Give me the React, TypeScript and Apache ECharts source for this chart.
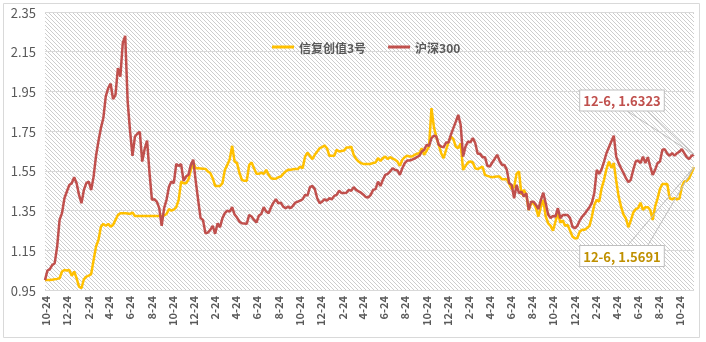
import React, { useEffect, useRef } from 'react';
import * as echarts from 'echarts';

// ---- data ----
const startDateUTC = [2014, 9, 24]; // 2014-10-24, weekly (Friday) observations
const seriesNames = ['信复创值3号', '沪深300'];

const fundValues = [
  1.000, 1.000, 1.000, 1.002, 1.004, 1.006, 1.009, 1.043, 1.051, 1.048,
  1.051, 1.021, 1.043, 1.009, 0.967, 0.959, 1.004, 1.017, 1.022, 1.031,
  1.101, 1.169, 1.202, 1.269, 1.283, 1.273, 1.283, 1.269, 1.278, 1.303,
  1.328, 1.337, 1.337, 1.337, 1.335, 1.333, 1.340, 1.323, 1.323, 1.323,
  1.323, 1.323, 1.323, 1.323, 1.323, 1.323, 1.323, 1.323, 1.323, 1.325,
  1.333, 1.357, 1.350, 1.355, 1.367, 1.404, 1.496, 1.488, 1.488, 1.505,
  1.555, 1.592, 1.563, 1.563, 1.562, 1.561, 1.560, 1.547, 1.539, 1.513,
  1.474, 1.474, 1.474, 1.488, 1.555, 1.580, 1.609, 1.676, 1.597, 1.589,
  1.539, 1.505, 1.500, 1.500, 1.580, 1.592, 1.563, 1.535, 1.535, 1.541,
  1.535, 1.555, 1.530, 1.513, 1.510, 1.510, 1.518, 1.521, 1.535, 1.547,
  1.555, 1.555, 1.558, 1.560, 1.559, 1.572, 1.563, 1.622, 1.642, 1.625,
  1.609, 1.631, 1.647, 1.664, 1.670, 1.678, 1.664, 1.626, 1.626, 1.626,
  1.656, 1.647, 1.650, 1.652, 1.667, 1.667, 1.672, 1.631, 1.610, 1.597,
  1.589, 1.585, 1.584, 1.585, 1.585, 1.590, 1.592, 1.614, 1.600, 1.614,
  1.622, 1.609, 1.619, 1.612, 1.606, 1.597, 1.575, 1.606, 1.619, 1.626,
  1.622, 1.622, 1.630, 1.636, 1.639, 1.664, 1.631, 1.652, 1.672, 1.866,
  1.770, 1.720, 1.680, 1.639, 1.614, 1.656, 1.693, 1.723, 1.710, 1.672,
  1.664, 1.689, 1.555, 1.575, 1.592, 1.597, 1.592, 1.563, 1.559, 1.565,
  1.572, 1.530, 1.525, 1.521, 1.518, 1.520, 1.521, 1.521, 1.508, 1.508,
  1.508, 1.484, 1.458, 1.468, 1.535, 1.547, 1.430, 1.454, 1.430, 1.353,
  1.387, 1.387, 1.362, 1.320, 1.370, 1.404, 1.320, 1.286, 1.273, 1.249,
  1.294, 1.337, 1.290, 1.300, 1.273, 1.278, 1.249, 1.219, 1.210, 1.211,
  1.244, 1.253, 1.253, 1.262, 1.273, 1.320, 1.379, 1.404, 1.395, 1.463,
  1.505, 1.560, 1.597, 1.565, 1.589, 1.500, 1.420, 1.370, 1.330, 1.310,
  1.266, 1.300, 1.340, 1.357, 1.362, 1.390, 1.353, 1.367, 1.367, 1.353,
  1.303, 1.370, 1.410, 1.460, 1.484, 1.484, 1.484, 1.412, 1.407, 1.412,
  1.407, 1.410, 1.470, 1.496, 1.500, 1.513, 1.541, 1.5691,
];

const hs300Values = [
  1.000, 1.048, 1.055, 1.076, 1.085, 1.169, 1.303, 1.337, 1.412, 1.446,
  1.479, 1.488, 1.518, 1.488, 1.429, 1.387, 1.454, 1.488, 1.496, 1.454,
  1.521, 1.626, 1.700, 1.765, 1.816, 1.925, 1.967, 1.989, 1.911, 1.933,
  2.068, 2.025, 2.194, 2.230, 1.900, 1.750, 1.626, 1.723, 1.737, 1.747,
  1.597, 1.660, 1.703, 1.539, 1.404, 1.407, 1.395, 1.362, 1.273, 1.362,
  1.404, 1.470, 1.496, 1.488, 1.585, 1.575, 1.584, 1.500, 1.521, 1.530,
  1.580, 1.606, 1.500, 1.404, 1.312, 1.303, 1.236, 1.239, 1.253, 1.273,
  1.233, 1.286, 1.266, 1.312, 1.337, 1.350, 1.345, 1.367, 1.330, 1.315,
  1.294, 1.286, 1.285, 1.283, 1.328, 1.320, 1.303, 1.290, 1.325, 1.333,
  1.367, 1.345, 1.337, 1.367, 1.390, 1.407, 1.387, 1.390, 1.370, 1.362,
  1.370, 1.362, 1.374, 1.390, 1.395, 1.400, 1.407, 1.429, 1.426, 1.468,
  1.474, 1.458, 1.412, 1.387, 1.395, 1.407, 1.400, 1.412, 1.407, 1.424,
  1.429, 1.450, 1.438, 1.438, 1.440, 1.454, 1.450, 1.468, 1.454, 1.447,
  1.440, 1.430, 1.418, 1.416, 1.429, 1.454, 1.458, 1.496, 1.474, 1.505,
  1.530, 1.535, 1.547, 1.563, 1.555, 1.552, 1.530, 1.563, 1.589, 1.602,
  1.602, 1.606, 1.612, 1.619, 1.626, 1.647, 1.656, 1.681, 1.676, 1.715,
  1.727, 1.723, 1.681, 1.672, 1.669, 1.693, 1.693, 1.732, 1.765, 1.798,
  1.832, 1.782, 1.622, 1.672, 1.698, 1.693, 1.715, 1.690, 1.636, 1.636,
  1.619, 1.619, 1.575, 1.572, 1.592, 1.610, 1.631, 1.602, 1.580, 1.580,
  1.555, 1.488, 1.479, 1.412, 1.479, 1.438, 1.446, 1.420, 1.438, 1.353,
  1.395, 1.395, 1.379, 1.357, 1.404, 1.440, 1.387, 1.330, 1.312, 1.323,
  1.320, 1.362, 1.312, 1.328, 1.328, 1.328, 1.312, 1.269, 1.261, 1.273,
  1.300, 1.320, 1.333, 1.350, 1.367, 1.390, 1.440, 1.555, 1.535, 1.559,
  1.597, 1.640, 1.669, 1.698, 1.727, 1.622, 1.589, 1.563, 1.539, 1.513,
  1.493, 1.505, 1.555, 1.597, 1.602, 1.589, 1.622, 1.589, 1.619, 1.572,
  1.530, 1.555, 1.589, 1.597, 1.656, 1.659, 1.636, 1.626, 1.639, 1.626,
  1.639, 1.647, 1.659, 1.639, 1.619, 1.609, 1.626, 1.6323,
];

const yMin = 0.95;
const yMax = 2.35;
const yStep = 0.2;

// ---- helpers ----
const FONT = "'Microsoft YaHei', 'Noto Sans CJK SC', sans-serif";
const DAY = 86400000;

function buildDays(count: number): string[] {
  const t0 = Date.UTC(startDateUTC[0], startDateUTC[1], startDateUTC[2]);
  const out: string[] = [];
  for (let d = 0; d < count; d++) {
    const dt = new Date(t0 + d * DAY);
    out.push(`${dt.getUTCMonth() + 1}-${dt.getUTCDate()}`);
  }
  return out;
}

function makeHatch() {
  const c = document.createElement('canvas');
  c.width = 4;
  c.height = 4;
  const g = c.getContext('2d')!;
  g.fillStyle = '#ffffff';
  g.fillRect(0, 0, 4, 4);
  g.fillStyle = '#cdcdcd';
  for (let i = 0; i < 4; i++) g.fillRect(i, i, 1, 1);
  return c;
}

export default function App() {
  const ref = useRef<HTMLDivElement>(null);

  useEffect(() => {
    if (!ref.current) return;
    const chart = echarts.init(ref.current, undefined, { renderer: 'svg' });
    const lastWeek = hs300Values.length - 1;
    const lastDay = lastWeek * 7;
    const days = buildDays(lastDay + 1);
    const toPairs = (arr: number[]) => arr.map((v, i) => [i * 7, v]);
    const hatch = makeHatch();

    chart.setOption({
      animation: false,
      textStyle: { fontFamily: FONT },
      grid: {
        left: 45, right: 12, top: 12, bottom: 52,
        show: true, borderWidth: 0,
        backgroundColor: { image: hatch, repeat: 'repeat', imageWidth: 4, imageHeight: 4 },
      },
      legend: {
        left: 267, top: 36,
        itemWidth: 22, itemHeight: 3, itemGap: 22, icon: 'rect',
        textStyle: { fontSize: 12, fontWeight: 'bold', color: '#595959', fontFamily: FONT },
        data: seriesNames,
      },
      xAxis: [
        { type: 'value', min: 0, max: lastDay, show: false },
        {
          type: 'category', data: days, boundaryGap: false, position: 'bottom',
          axisLine: { show: false }, axisTick: { show: false }, splitLine: { show: false },
          axisLabel: {
            interval: (_i: number, v: string) => {
              const [m, d] = v.split('-').map(Number);
              return d === 24 && m % 2 === 0;
            },
            rotate: 90, fontSize: 11, fontWeight: 'bold', color: '#595959', margin: 6, fontFamily: FONT,
          },
        },
      ],
      yAxis: {
        type: 'value', min: yMin, max: yMax, interval: yStep,
        axisLine: { show: false }, axisTick: { show: false },
        axisLabel: { formatter: (v: number) => v.toFixed(2), fontSize: 13, color: '#595959', margin: 9, fontFamily: FONT },
        splitLine: { lineStyle: { color: '#d9d9d9', width: 1 } },
      },
      series: [
        {
          name: seriesNames[0], type: 'line', xAxisIndex: 0, yAxisIndex: 0,
          data: toPairs(fundValues), symbol: 'none', color: '#FFC000',
          lineStyle: { width: 2.5, color: '#FFC000' },
        },
        {
          name: seriesNames[1], type: 'line', xAxisIndex: 0, yAxisIndex: 0,
          data: toPairs(hs300Values), symbol: 'none', color: '#C0504D',
          lineStyle: { width: 2.5, color: '#C0504D' },
        },
      ],
    });

    const pR = chart.convertToPixel({ xAxisIndex: 0, yAxisIndex: 0 }, [lastDay, hs300Values[lastWeek]]) as number[];
    const pY = chart.convertToPixel({ xAxisIndex: 0, yAxisIndex: 0 }, [lastDay, fundValues[lastWeek]]) as number[];
    const lastLabel = days[lastDay];
    const boxStyle = {
      backgroundColor: '#ffffff', borderColor: '#bfbfbf', borderWidth: 1,
      padding: [4, 3, 3, 3], align: 'center', verticalAlign: 'middle',
      font: `bold 13px ${FONT}`,
    };

    chart.setOption({
      graphic: [
        {
          type: 'rect', silent: true, z: 0,
          shape: { x: 3.5, y: 3.5, width: 696, height: 334 },
          style: { fill: 'none', stroke: '#d9d9d9', lineWidth: 1 },
        },
        {
          type: 'polyline', silent: true, z: 50,
          shape: { points: [[pR[0] - 66, pR[1] - 43], [pR[0], pR[1]], [pR[0] - 46, pR[1] - 43]] },
          style: { stroke: '#bfbfbf', fill: 'none', lineWidth: 1 },
        },
        {
          type: 'polyline', silent: true, z: 50,
          shape: { points: [[pY[0] - 66, pY[1] + 78], [pY[0], pY[1]], [pY[0] - 46, pY[1] + 78]] },
          style: { stroke: '#bfbfbf', fill: 'none', lineWidth: 1 },
        },
        {
          type: 'text', z: 60, x: pR[0] - 72, y: pR[1] - 54,
          style: { ...boxStyle, text: `${lastLabel}, ${hs300Values[lastWeek].toFixed(4)}`, fill: '#C0504D' },
        },
        {
          type: 'text', z: 60, x: pY[0] - 72, y: pY[1] + 89,
          style: { ...boxStyle, text: `${lastLabel}, ${fundValues[lastWeek].toFixed(4)}`, fill: '#BF9000' },
        },
      ],
    });

    return () => chart.dispose();
  }, []);

  return <div ref={ref} style={{ position: 'fixed', left: 0, top: 0, width: 706, height: 342 }} />;
}
